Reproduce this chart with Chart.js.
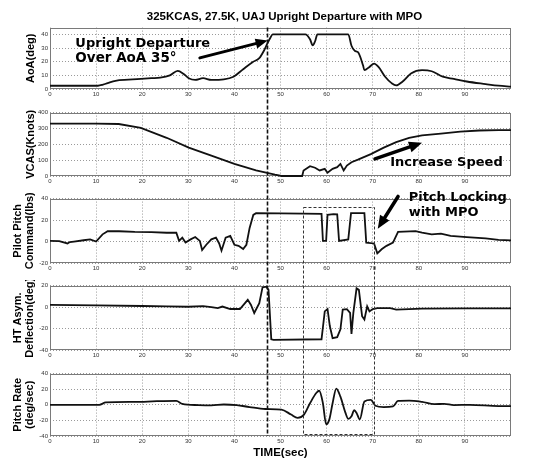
<!DOCTYPE html>
<html>
<head>
<meta charset="utf-8">
<script src="https://cdn.jsdelivr.net/npm/chart.js@4.4.1/dist/chart.umd.min.js"></script>
<style>
  html, body { margin: 0; padding: 0; background: #fff; }
  #wrap { position: relative; width: 546px; height: 462px; overflow: hidden; background: #fff; }
  #wrap canvas { position: absolute; left: 0; }
</style>
</head>
<body>
<div id="wrap">
  <canvas id="c1"></canvas>
  <canvas id="c2"></canvas>
  <canvas id="c3"></canvas>
  <canvas id="c4"></canvas>
  <canvas id="c5"></canvas>
  <canvas id="ov" width="546" height="462" style="top:0px"></canvas>
</div>
<script>
// ---------------- data ----------------
const chartTitle = '325KCAS, 27.5K, UAJ Upright Departure with MPO';
const timeLabel = 'TIME(sec)';

const aoaTime = [0,5,10.4,11.5,12.5,14.2,17,19.7,22,23.9,26,27.7,29,30.1,31.5,33.2,35,37.7,39.8,41.9,44,45.4,46.4,47.1,47.8,48.3,55.4,56.4,57,57.5,58,64.7,65.4,66.1,66.8,67.9,68.2,69.3,70.3,71.3,72.7,74.1,75.1,76.5,78.3,80.7,82.8,85.2,87.6,90.4,94.5,97.3,100];
const aoaDeg  = [2.4,2.4,2.4,3.2,4.3,6,6.8,7.4,7.9,8.3,10,13.3,11,7.9,6.7,7.9,6.7,7.1,9,14.5,19.8,22.6,28,33,37.6,40,40,36.4,32,35,40,40,31.7,28,27,17.4,13.8,16.2,18.6,16,9,4.3,2.6,5.5,11.4,13.8,13,9,7.4,5.5,3.6,2.4,1.8];

const vcasTime  = [0,10,14.9,19.7,25.3,30.1,35,40,44.7,48.8,50.2,54.7,55,56.4,57.5,58.5,59.6,60.2,61.3,62.3,63,63.7,64.4,65.4,66.8,69.6,72.4,75.1,77.9,80.7,84.8,89,93.1,97.3,100];
const vcasKnots = [330,331,328,303,241,179,128,76,35,8,0,0,35,62,52,35,45,21,45,56,76,35,66,87,103,138,179,214,241,256,268,280,287,289,290];

const pitchCmdTime = [0,2,3.8,4.3,5.2,7.3,8.7,10,11.4,12.5,15,18.4,22,25.3,27.4,28,28.7,29.4,30.5,31.5,32.5,33,33.9,35,36,36.7,37.2,38.1,39.1,40,40.9,41.9,42.6,43.3,44.1,44.7,50,55,58.9,59.2,59.9,60.2,61.5,62.3,62.7,64.7,65.3,68.2,68.6,70.3,71,72,73,74.4,75.5,79.3,80.7,82.8,84.8,86.9,90.4,94.5,97.3,100];
const pitchCmdLbs  = [0.6,0.3,-1.8,-0.5,0,1.2,2,0,6.7,9.7,9.6,9,8.8,8.2,8.2,0.6,3.6,-1,2,4.2,0.6,-7.9,-3,2,3.6,-1.8,-8.5,3.6,5.2,-3,-4,-7,-3,12.7,24.8,26.4,26.2,26,25.8,0.6,0.6,24.8,25.5,25.3,0.6,2,26.4,26.4,-1,-1.8,-11,-7,-4,-1,9,9.7,8.2,6.7,7.3,5.2,4.2,3,1.5,1];

const htTime = [0,10,20,25.3,30,33.2,35,36.4,37.4,39.1,41.2,42.9,43.6,44.3,45.4,46.1,46.9,47.4,48,48.5,58.9,59.6,60.2,60.7,61.3,62.3,63,63.5,64.4,65.1,65.4,65.8,66.5,67,67.7,68.2,68.8,69.3,70,71,73.8,75.1,80.7,90,97.3,100];
const htDeg  = [2,1.5,1,0.6,0.3,0.8,0,-1,0.5,-1.8,-1.8,6.7,2,-5.5,3.7,18.3,19,16,-30,-30.5,-30,-4,-1.8,-17.7,-29,-28,-20.7,-2.4,-2,-5.5,-25,-5.5,17.4,16,-8.5,-11.6,0.6,-4,-1.8,-1,-1,-2.4,-1.5,-1.2,-1.2,-1.2];

const rateTime = [0,10.7,12.1,18.4,23.2,27.4,28.7,32.2,35,37.7,40.5,43.3,46.7,50.2,52.3,53.7,55.1,56.4,57.8,58.4,59.2,59.9,60.6,61.3,62.1,63,64.1,64.7,65.4,66,66.5,67.2,68.2,69.6,70.6,72.4,74.4,75.5,77.9,80.7,83.4,85.5,87.6,91.1,97.3,100];
const rateDegSec = [0,0,3,3.7,4.6,5,1.2,-0.4,-0.8,0.4,-0.4,-2.9,-5.4,-6.2,-12.5,-16.7,-12.5,2,15.4,18,2,-25,-18.7,2,20.8,10.4,-10.4,-18,-14.6,-7,-10.4,-18.7,4.2,6.3,-1.2,-2.9,-2,5,5.4,3.7,0.8,1.2,-0.4,0,-1.7,-1.7];

const timeTickStep = 10;
const departureTime = 47;          // vertical dashed marker
const lockBoxStart = 54.9, lockBoxEnd = 70.3;
const lockBoxTopCmd = 32.5, lockBoxBottomRate = -37.5;

// ---------------- layout ----------------
Chart.defaults.font.family = '"Liberation Sans", Arial, sans-serif';
const tops    = [22, 107, 193, 280, 368];
const heights = [85, 87, 88, 88, 94];
const xAxisH  = [18, 18, 18, 18, 26];

const panels = [
  { t: aoaTime, v: aoaDeg, min: 0, max: 45, step: 10, title: 'AoA(deg)', pad: 24.4, smooth: true },
  { t: vcasTime, v: vcasKnots, min: 0, max: 400, step: 100, title: 'VCAS(Knots)', pad: 24.4, smooth: false },
  { t: pitchCmdTime, v: pitchCmdLbs, min: -20, max: 40, step: 20, title: ['Pilot Pitch', 'Command(lbs)'], pad: 11.9, smooth: false },
  { t: htTime, v: htDeg, min: -40, max: 20, step: 20, title: ['HT Asym.', 'Deflection(deg)'], pad: 11.9, smooth: false },
  { t: rateTime, v: rateDegSec, min: -40, max: 40, step: 20, title: ['Pitch Rate', '(deg/sec)'], pad: 11.9, smooth: true, xTitle: timeLabel }
];

const framePlugin = {
  id: 'frame',
  beforeDatasetsDraw(chart) {
    const { ctx, chartArea: a } = chart;
    ctx.save();
    ctx.strokeStyle = '#7a7a7a';
    ctx.lineWidth = 1;
    ctx.setLineDash([]);
    ctx.strokeRect(Math.round(a.left) + 0.5, Math.round(a.top) + 0.5,
                   Math.round(a.right - a.left) - 1, Math.round(a.bottom - a.top) - 1);
    ctx.restore();
  }
};

const charts = panels.map((p, i) => {
  const cv = document.getElementById('c' + (i + 1));
  cv.width = 546; cv.height = heights[i];
  cv.style.top = tops[i] + 'px';
  return new Chart(cv, {
    type: 'line',
    data: {
      datasets: [{
        data: p.t.map((x, k) => ({ x: x, y: p.v[k] })),
        borderColor: '#111', borderWidth: 1.8, pointRadius: 0, fill: false,
        tension: 0, cubicInterpolationMode: p.smooth ? 'monotone' : 'default', clip: 4
      }]
    },
    options: {
      responsive: false, animation: false, devicePixelRatio: 1, events: [],
      layout: { padding: { top: 4, right: 35, left: 0, bottom: 0 } },
      plugins: { legend: { display: false }, tooltip: { enabled: false } },
      scales: {
        x: {
          type: 'linear', min: 0, max: 100,
          ticks: { stepSize: timeTickStep, autoSkip: false, maxRotation: 0, padding: 2,
                   font: { size: 6 }, color: '#333',
                   callback: v => (v < 100 && v % timeTickStep === 0) ? String(v) : null },
          grid: { color: '#9a9a9a', lineWidth: 1, drawTicks: false, borderDash: [1, 2] },
          border: { display: false, dash: [1, 2] },
          title: p.xTitle ? { display: true, text: p.xTitle, color: '#000',
                              font: { size: 11.5, weight: 'bold' }, padding: { top: 0, bottom: 2 } }
                          : { display: false },
          afterFit: s => { s.height = xAxisH[i]; }
        },
        y: {
          min: p.min, max: p.max,
          ticks: { stepSize: p.step, padding: 2, font: { size: 6 }, color: '#333',
                   callback: v => (v % p.step === 0) ? String(v) : null },
          grid: { color: '#9a9a9a', lineWidth: 1, drawTicks: false, borderDash: [1, 2] },
          border: { display: false, dash: [1, 2] },
          title: { display: true, text: p.title, color: '#000',
                   font: { size: 11, weight: 'bold', lineHeight: 1.12 },
                   padding: { top: p.pad, bottom: 0 } },
          afterFit: s => { s.width = 50; }
        }
      }
    },
    plugins: [framePlugin]
  });
});

// ---------------- overlay annotations ----------------
const ov = document.getElementById('ov');
const ctx = ov.getContext('2d');
const X = (i, t) => charts[i].scales.x.getPixelForValue(t);
const Y = (i, v) => tops[i] + charts[i].scales.y.getPixelForValue(v);

function arrow(x1, y1, x2, y2, w, hl, hw) {
  const a = Math.atan2(y2 - y1, x2 - x1), c = Math.cos(a), s = Math.sin(a);
  ctx.save();
  ctx.setLineDash([]);
  ctx.strokeStyle = '#000'; ctx.fillStyle = '#000';
  ctx.lineWidth = w; ctx.lineCap = 'round';
  ctx.beginPath(); ctx.moveTo(x1, y1); ctx.lineTo(x2 - hl * 0.7 * c, y2 - hl * 0.7 * s); ctx.stroke();
  ctx.beginPath();
  ctx.moveTo(x2, y2);
  ctx.lineTo(x2 - hl * c + hw * s, y2 - hl * s - hw * c);
  ctx.lineTo(x2 - hl * c - hw * s, y2 - hl * s + hw * c);
  ctx.closePath(); ctx.fill();
  ctx.restore();
}

// title
ctx.fillStyle = '#000';
ctx.font = 'bold 11.5px "Liberation Sans", Arial, sans-serif';
ctx.textAlign = 'center'; ctx.textBaseline = 'alphabetic';
ctx.fillText(chartTitle, (X(0, 0) + X(0, 100)) / 2 + 4, 20);

// departure marker
ctx.save();
ctx.strokeStyle = '#111'; ctx.lineWidth = 1.6; ctx.setLineDash([4, 2]);
ctx.beginPath();
ctx.moveTo(Math.round(X(0, departureTime)) + 0.5, Y(0, 45));
ctx.lineTo(Math.round(X(0, departureTime)) + 0.5, Y(4, -40));
ctx.stroke();
ctx.restore();

// MPO locking box
ctx.save();
ctx.strokeStyle = '#333'; ctx.lineWidth = 1; ctx.setLineDash([3, 2]);
const bx1 = Math.round(X(2, lockBoxStart)) + 0.5, bx2 = Math.round(X(2, lockBoxEnd)) + 0.5;
const by1 = Math.round(Y(2, lockBoxTopCmd)) + 0.5, by2 = Math.round(Y(4, lockBoxBottomRate)) + 0.5;
ctx.strokeRect(bx1, by1, bx2 - bx1, by2 - by1);
ctx.restore();

// annotation texts
ctx.textAlign = 'left';
ctx.font = 'bold 13px "DejaVu Sans", sans-serif';
ctx.fillText('Upright Departure', X(0, 5.5), Y(0, 30.7));
ctx.font = 'bold 13.5px "DejaVu Sans", sans-serif';
ctx.fillText('Over AoA 35\u00B0', X(0, 5.5), Y(0, 20));
ctx.font = 'bold 13px "DejaVu Sans", sans-serif';
ctx.fillText('Increase Speed', X(1, 73.8), Y(1, 61.5));
ctx.fillText('Pitch Locking', X(2, 77.8), Y(2, 37.3));
ctx.fillText('with MPO', X(2, 77.8), Y(2, 23.6));

// arrows
arrow(X(0, 32.5), Y(0, 22.8), X(0, 47.2), Y(0, 35.5), 3, 12, 5);
arrow(X(1, 70.5), Y(1, 108), X(1, 80.7), Y(1, 210), 3.5, 13, 5.5);
arrow(X(2, 75.5), Y(2, 42), X(2, 71.1), Y(2, 12), 3.5, 13, 5.5);
</script>
</body>
</html>
